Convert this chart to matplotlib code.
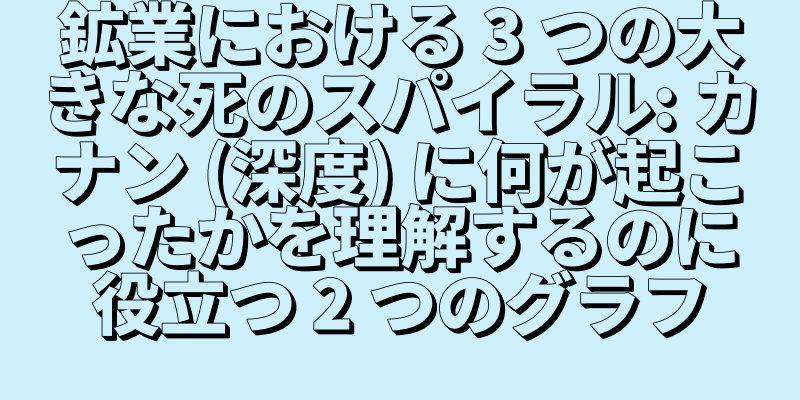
import matplotlib
matplotlib.use('Agg')
import matplotlib.pyplot as plt
import matplotlib.patheffects as pe

# title text, one entry per line
lines = [
    '鉱業における 3 つの大',
    'きな死のスパイラル: カ',
    'ナン (深度) に何が起こ',
    'ったかを理解するのに',
    '役立つ 2 つのグラフ',
]

bg = '#cdf0fc'

fig = plt.figure(figsize=(8, 4), dpi=100)
fig.patch.set_facecolor(bg)
ax = fig.add_axes([0, 0, 1, 1])
ax.set_xlim(0, 800)
ax.set_ylim(400, 0)
ax.axis('off')

# 3D extruded look: stacked filled black offsets, then outlined fill
effects = [pe.PathPatchEffect(offset=(k * 0.5, -k * 0.5), facecolor='black',
                              edgecolor='black', linewidth=1) for k in range(1, 7)]
effects += [pe.Stroke(linewidth=1.2, foreground='black'), pe.Normal()]

y0 = 39
step = 67.5
for i, s in enumerate(lines):
    ax.text(400, y0 + i * step, s, ha='center', va='center', fontsize=49,
            fontweight='heavy', color=bg, family=['Noto Sans CJK JP', 'DejaVu Sans'],
            path_effects=effects)

fig.savefig('out.png', dpi=100, facecolor=bg)
